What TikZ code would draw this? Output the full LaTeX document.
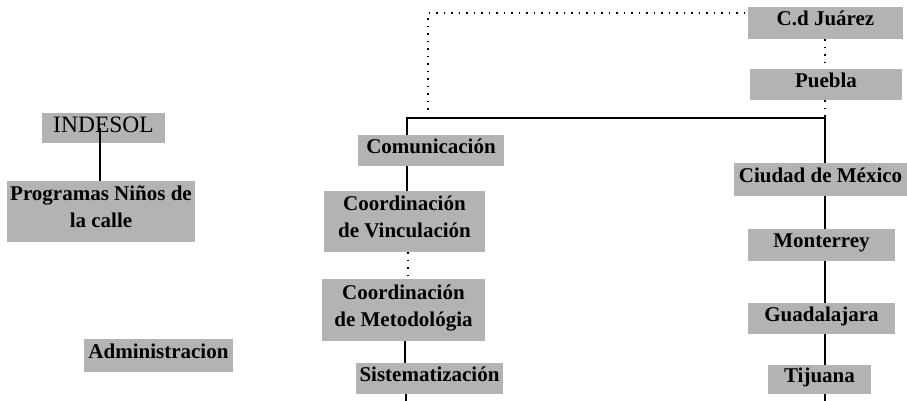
\documentclass[tikz,border=0pt]{standalone}
\usepackage{fontspec}
\setmainfont{Liberation Serif}
\usetikzlibrary{calc}

\definecolor{boxgray}{HTML}{B3B3B3}

\begin{document}
\begin{tikzpicture}[x=1pt,y=-1pt,
	box/.style={fill=boxgray, inner sep=0pt, align=center, text depth=9pt,
		font=\fontsize{21}{27}\selectfont\bfseries},
	link/.style={line width=1.3pt},
	dotlink/.style={line width=1.5pt, dash pattern=on 1.5pt off 6pt}]

	\useasboundingbox (0,0) rectangle (907,401);

	% ---- left group

	\node[box, font=\fontsize{23.5}{27}\selectfont, text depth=7pt,
		minimum width=123pt, minimum height=30pt]
		(indesol) at (103.5,128) {INDESOL};
	\node[box, minimum width=188pt, minimum height=61pt]
		(ninos) at (101,211.5) {Programas Niños de\\la calle};
	\node[box, minimum width=149pt, minimum height=33pt]
		(admin) at (158.5,355.5) {Administracion};

	% ---- middle column

	\node[box, minimum width=146pt, minimum height=31pt]
		(comun) at (431,150.5) {Comunicación};
	\node[box, minimum width=161pt, minimum height=61pt]
		(vinc) at (404.5,221.5) {Coordinación\\de Vinculación};
	\node[box, minimum width=163pt, minimum height=62pt]
		(metod) at (403.5,310) {Coordinación\\de Metodológia};
	\node[box, minimum width=147pt, minimum height=31pt]
		(sistem) at (429.5,378.5) {Sistematización};

	% ---- right column

	\node[box, minimum width=155pt, minimum height=32pt]
		(juarez) at (825.5,23) {C.d Juárez};
	\node[box, minimum width=152pt, minimum height=31pt]
		(puebla) at (826,84.5) {Puebla};
	\node[box, minimum width=173pt, minimum height=33pt]
		(cdmx) at (820.5,179.5) {Ciudad de México};
	\node[box, minimum width=147pt, minimum height=32pt]
		(monterrey) at (821.5,245) {Monterrey};
	\node[box, minimum width=147pt, minimum height=31pt]
		(guadalajara) at (821.5,318.5) {Guadalajara};
	\node[box, minimum width=103pt, minimum height=29pt]
		(tijuana) at (819.5,379.5) {Tijuana};

	% ---- coordinates

	\coordinate (busL) at (407,118);
	\coordinate (busR) at (825,118);
	\coordinate (dotstart) at (428,110);
	\coordinate (dotturn) at (428,13);
	\coordinate (endL) at (406,401);
	\coordinate (endR) at (825,401);

	% ---- solid links

	\draw[link, line width=2pt] (indesol.center -| 100,0) -- (ninos.north -| 100,0);
	\draw[link] (comun.north -| busL) -- (busL) -- (busR) -- (cdmx.north -| busR);
	\draw[link] (comun.south -| busL) -- (vinc.north -| busL);
	\draw[link] (metod.south -| 405,0) -- (sistem.north -| 405,0);
	\draw[link] (sistem.south -| endL) -- (endL);
	\draw[link] (cdmx.south -| busR) -- (monterrey.north -| busR);
	\draw[link] (monterrey.south -| busR) -- (guadalajara.north -| busR);
	\draw[link] (guadalajara.south -| busR) -- (tijuana.north -| busR);
	\draw[link] (tijuana.south -| endR) -- (endR);

	% ---- dotted links

	\draw[dotlink] (dotstart) -- (dotturn) -- (dotturn -| juarez.west);
	\draw[dotlink] (juarez.south -| busR) -- (puebla.north -| busR);
	\draw[dotlink] (puebla.south -| busR) -- (busR);
	\draw[dotlink] (vinc.south -| 408,0) -- (metod.north -| 408,0);

\end{tikzpicture}
\end{document}
